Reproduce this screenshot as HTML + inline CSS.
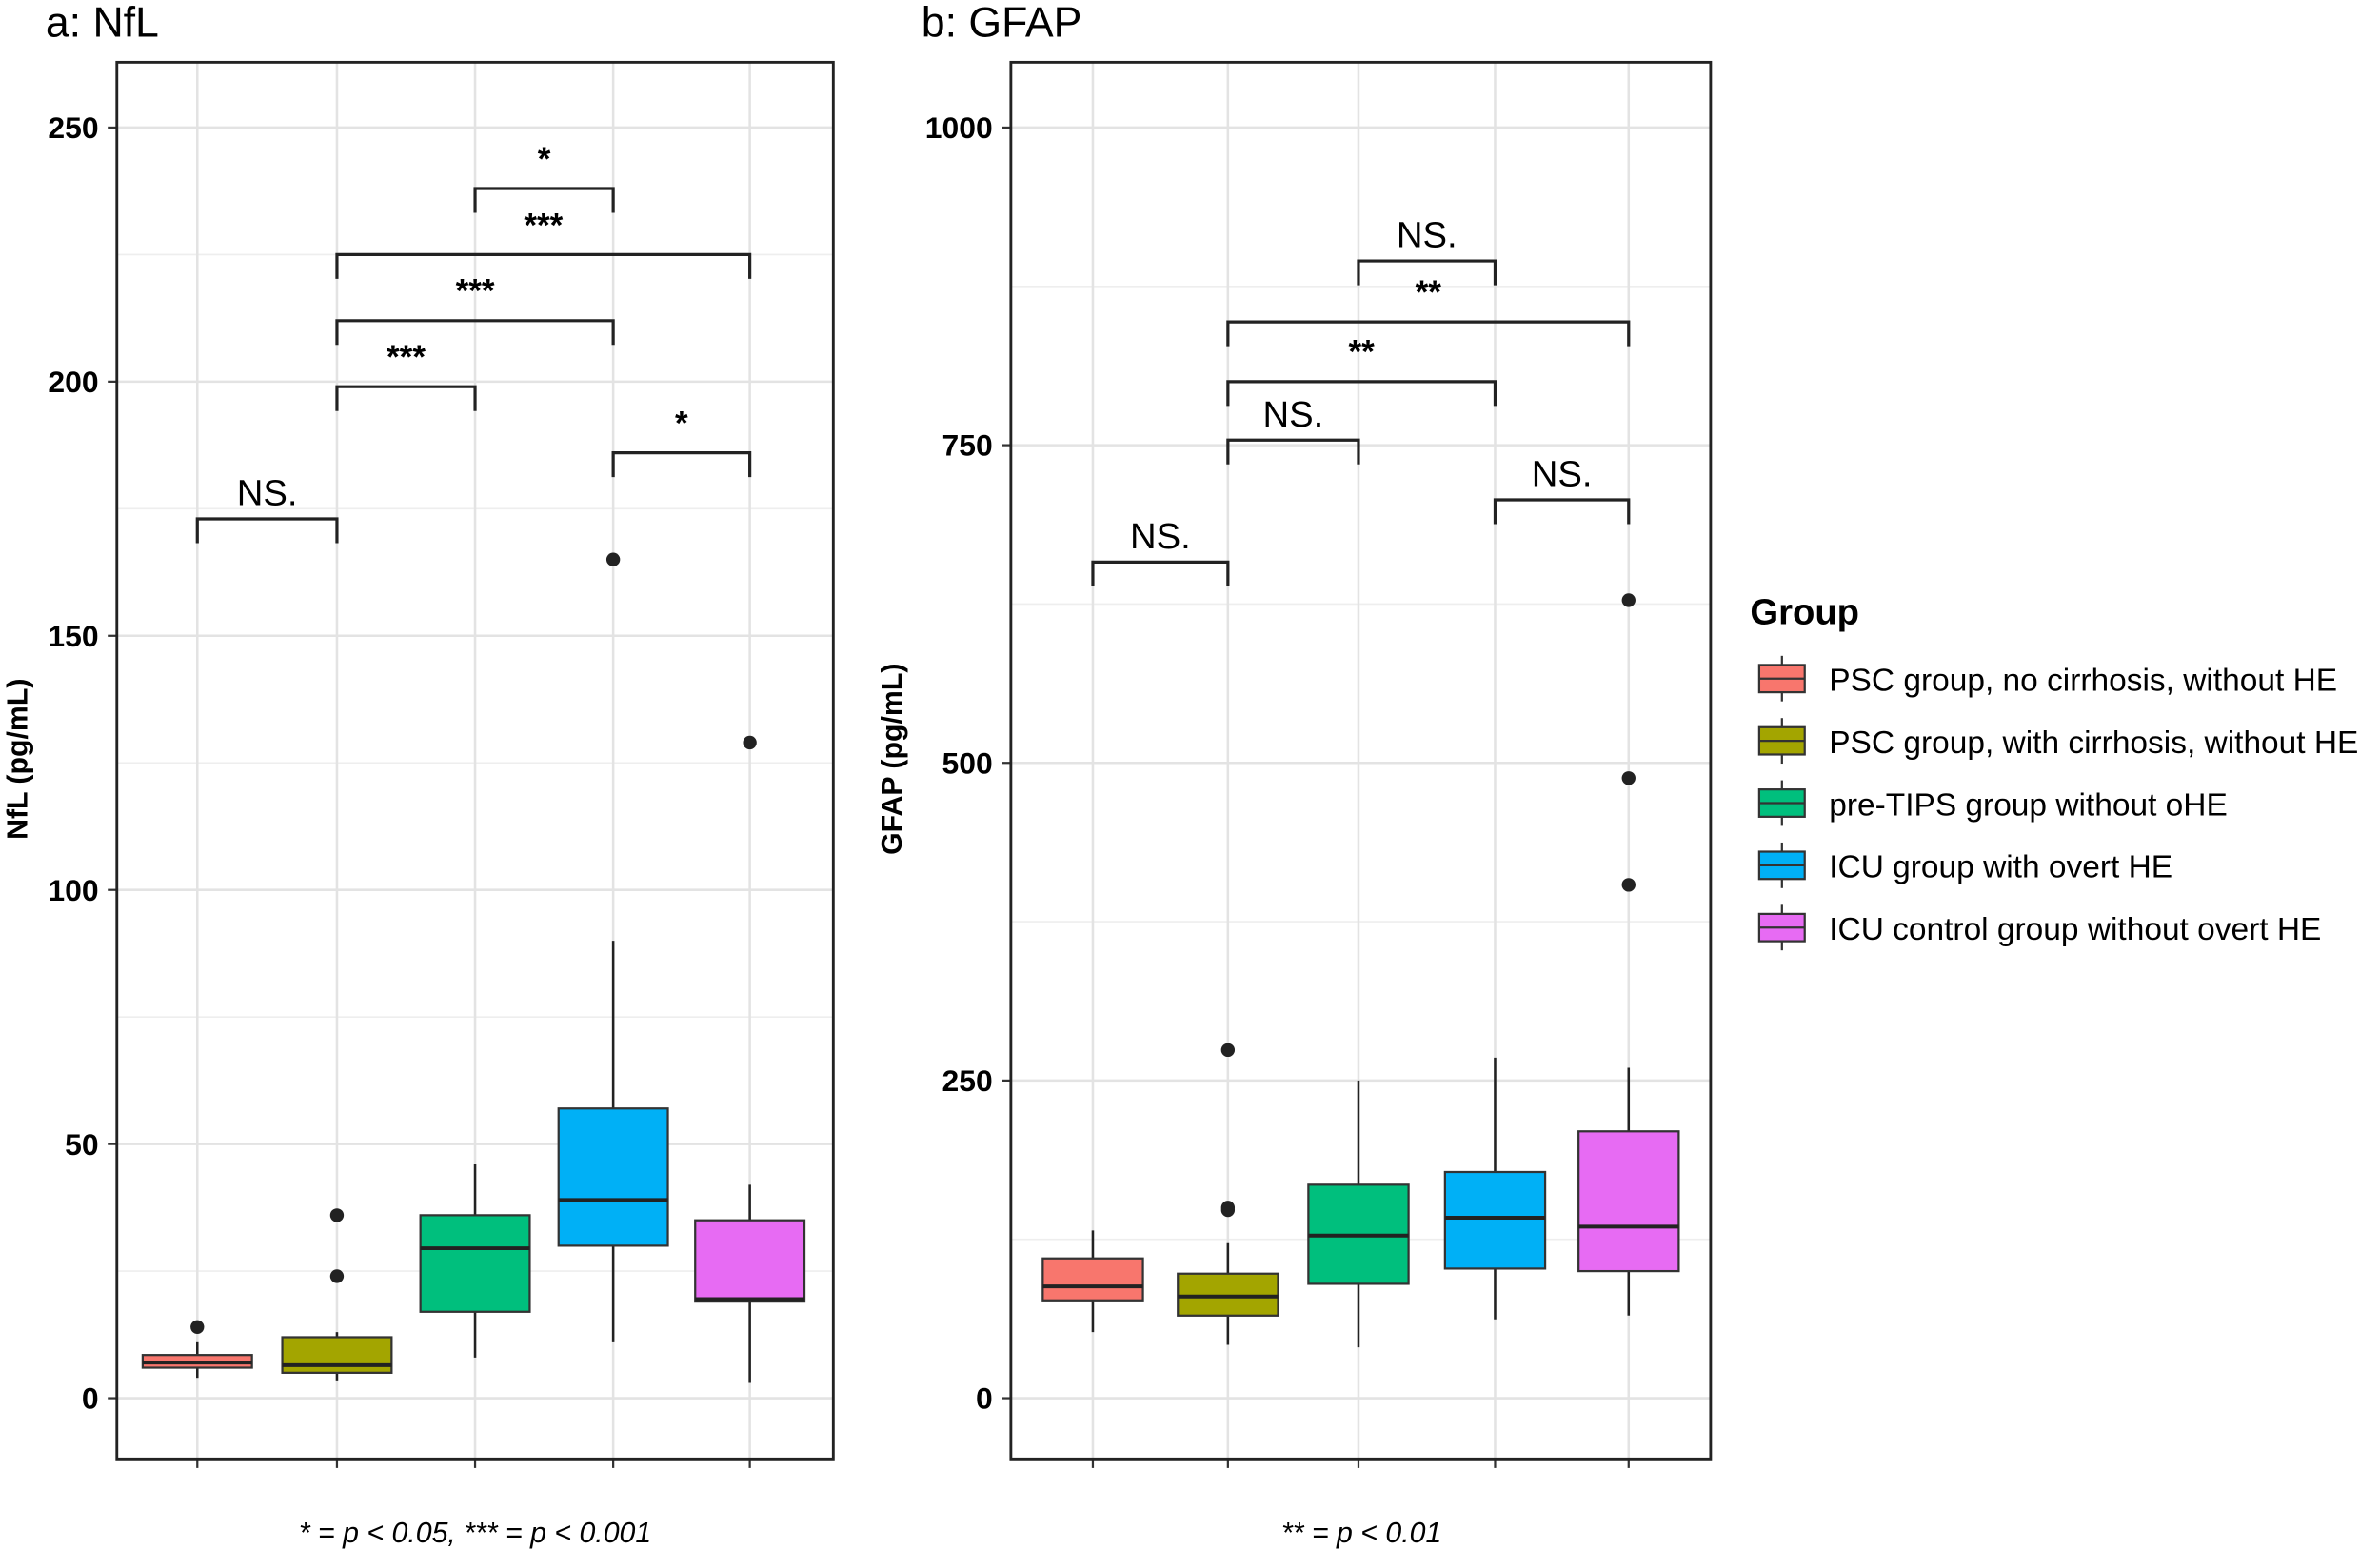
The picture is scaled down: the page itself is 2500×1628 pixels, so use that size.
<!DOCTYPE html>
<html><head><meta charset="utf-8">
<style>
html,body{margin:0;padding:0;background:#fff;}
svg{display:block;font-family:"Liberation Sans",Arial,sans-serif;}
</style></head>
<body>
<svg id="chart" width="2500" height="1628" viewBox="0 0 1568 1021" preserveAspectRatio="none" xmlns="http://www.w3.org/2000/svg">
<text x="30" y="24" font-size="28">a: NfL</text>
<text x="607" y="24" font-size="28">b: GFAP</text>
<text transform="translate(18,500) rotate(-90)" text-anchor="middle" font-size="19" font-weight="bold">NfL (pg/mL)</text>
<text transform="translate(594,500) rotate(-90)" text-anchor="middle" font-size="19" font-weight="bold">GFAP (pg/mL)</text>
<text x="313" y="1016" text-anchor="middle" font-size="19" font-style="italic">* = p &lt; 0.05, *** = p &lt; 0.001</text>
<text x="897" y="1016" text-anchor="middle" font-size="19" font-style="italic">** = p &lt; 0.01</text>
<g id="legend">
<text x="1153" y="411" font-size="24" font-weight="bold">Group</text>
</g>
</svg>
<script>
const groups = ["PSC group, no cirrhosis, without HE","PSC group, with cirrhosis, without HE","pre-TIPS group without oHE","ICU group with overt HE","ICU control group without overt HE"];
const colors = ["#F8766D","#A3A500","#00BF7D","#00B0F6","#E76BF3"];
// NfL
const nflLow = [4,3.5,8,11,3];
const nflQ1 = [6,5,17,30,19];
const nflMed = [7,6.5,29.5,39,19.5];
const nflQ3 = [8.5,12,36,57,35];
const nflHigh = [11,13,46,90,42];
const nflOut = [[14],[24,36],[],[165],[129]];
const nflTicks = [0,50,100,150,200,250];
const nflBrackets = [[0,1,173,"NS."],[1,2,199,"***"],[1,3,212,"***"],[1,4,225,"***"],[2,3,238,"*"],[3,4,186,"*"]];
// GFAP
const gfLow = [52,42,40,62,65];
const gfQ1 = [77,65,90,102,100];
const gfMed = [88,80,128,142,135];
const gfQ3 = [110,98,168,178,210];
const gfHigh = [132,122,250,268,260];
const gfOut = [[],[148,150,274],[],[],[404,488,628]];
const gfTicks = [0,250,500,750,1000];
const gfBrackets = [[0,1,658,"NS."],[1,2,754,"NS."],[1,3,800,"**"],[1,4,847,"**"],[2,3,895,"NS."],[3,4,707,"NS."]];

const NS="http://www.w3.org/2000/svg";
const svg=document.getElementById('chart');
function mk(tag,attrs,parent){const e=document.createElementNS(NS,tag);for(const k in attrs)e.setAttribute(k,attrs[k]);(parent||svg).appendChild(e);return e;}

function panel(p){
  const g=mk('g',{});
  
  
  const y=v=>p.y0-(v-p.vmin)/(p.vmax-p.vmin)*(p.y0-p.y1);
  const x=i=>p.xs[i];
  // minor+major grid
  for(let k=0;k<p.ticks.length;k++){
    const t=p.ticks[k];
    const l=mk('line',{x1:p.L,x2:p.R,y1:y(t),y2:y(t),stroke:'#e3e3e3','stroke-width':1.6},g);
    
    
    if(k<p.ticks.length-1){const m=(t+p.ticks[k+1])/2;
      const l2=mk('line',{x1:p.L,x2:p.R,y1:y(m),y2:y(m),stroke:'#eeeeee','stroke-width':1},g);
      
      }
  }
  for(let i=0;i<5;i++){
    const l=mk('line',{x1:x(i),x2:x(i),y1:p.T,y2:p.B,stroke:'#e3e3e3','stroke-width':1.6},g);
    
    
    const tk=mk('line',{x1:x(i),x2:x(i),y1:p.B,y2:p.B+6,stroke:'#333','stroke-width':1.4},g);
    
    
  }
  for(const t of p.ticks){
    const tk=mk('line',{x1:p.L-6,x2:p.L,y1:y(t),y2:y(t),stroke:'#333','stroke-width':1.4},g);
    
    
    const tx=mk('text',{x:p.L-12,y:y(t)+7,'text-anchor':'end','font-size':20,'font-weight':'bold'},g);
    tx.textContent=t;
    
    
  }
  // boxes
  for(let i=0;i<5;i++){
    const bg=mk('g',{},g);
    
    
    mk('line',{x1:x(i),x2:x(i),y1:y(p.low[i]),y2:y(p.high[i]),stroke:'#222','stroke-width':1.6},bg);
    mk('rect',{x:x(i)-p.hw,y:y(p.q3[i]),width:2*p.hw,height:y(p.q1[i])-y(p.q3[i]),fill:colors[i],stroke:'#333','stroke-width':1.4},bg);
    mk('line',{x1:x(i)-p.hw,x2:x(i)+p.hw,y1:y(p.med[i]),y2:y(p.med[i]),stroke:'#222','stroke-width':2.5},bg);
    for(const o of p.out[i]){
      const c=mk('circle',{cx:x(i),cy:y(o),r:4.5,fill:'#222'},bg);
      
      
    }
  }
  // brackets
  for(const b of p.br){
    const bb=mk('g',{},g);
    
    
    const yy=y(b[2]),x1=x(b[0]),x2=x(b[1]);
    mk('path',{d:`M${x1},${yy+16}V${yy}H${x2}V${yy+16}`,fill:'none',stroke:'#222','stroke-width':2},bb);
    const isNS=b[3]==='NS.';
    const t=mk('text',{x:(x1+x2)/2,y:isNS?yy-9:yy-12,'text-anchor':'middle','font-size':isNS?24:22,'font-weight':isNS?'normal':'bold'},bb);
    t.textContent=b[3];
  }
  const fr=mk('rect',{x:p.L,y:p.T,width:p.R-p.L,height:p.B-p.T,fill:'none',stroke:'#222','stroke-width':1.8},g);
  
  
}
panel({name:'panel-nfl',L:77,R:549,T:41,B:961,y0:921,y1:84,vmin:0,vmax:250,xs:[130,222,313,404,494],hw:36,
  low:nflLow,q1:nflQ1,med:nflMed,q3:nflQ3,high:nflHigh,out:nflOut,ticks:nflTicks,br:nflBrackets});
panel({name:'panel-gfap',L:666,R:1127,T:41,B:961,y0:921,y1:84,vmin:0,vmax:1000,xs:[720,809,895,985,1073],hw:33,
  low:gfLow,q1:gfQ1,med:gfMed,q3:gfQ3,high:gfHigh,out:gfOut,ticks:gfTicks,br:gfBrackets});
// legend
const lg=document.getElementById('legend');
for(let i=0;i<5;i++){
  const cy=447+41*i;
  const e=mk('g',{},lg);
  
  
  mk('line',{x1:1174,x2:1174,y1:cy-15,y2:cy+15,stroke:'#333','stroke-width':1.4},e);
  mk('rect',{x:1159,y:cy-9,width:30,height:18,fill:colors[i],stroke:'#333','stroke-width':1.4},e);
  mk('line',{x1:1159,x2:1189,y1:cy,y2:cy,stroke:'#333','stroke-width':1.4},e);
  const t=mk('text',{x:1205,y:cy+8,'font-size':21},e);
  t.textContent=groups[i];
}
</script>
</body></html>
